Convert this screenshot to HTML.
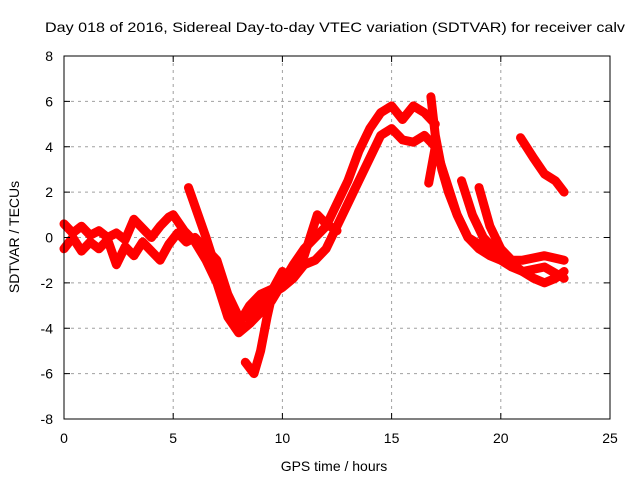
<!DOCTYPE html>
<html><head><meta charset="utf-8"><style>
body{margin:0;background:#fff}
svg text{font-family:"Liberation Sans",sans-serif;font-size:14px;fill:#000}
</style></head><body>
<svg id="chart" width="640" height="480" viewBox="0 0 640 480">
<rect width="640" height="480" fill="#fff"/>
<text x="45" y="32" textLength="580" lengthAdjust="spacingAndGlyphs">Day 018 of 2016, Sidereal Day-to-day VTEC variation (SDTVAR) for receiver calv</text>
<g id="grid"></g>
<g id="series"></g>
<rect x="64" y="56" width="546" height="363" fill="none" stroke="#000" stroke-width="1"/>
<g id="ticks"></g>
<text x="334" y="471" text-anchor="middle">GPS time / hours</text>
<text transform="translate(19,237) rotate(-90)" text-anchor="middle">SDTVAR / TECUs</text>
</svg>
<script>
const xTicks=[0,5,10,15,20,25];
const yTicks=[-8,-6,-4,-2,0,2,4,6,8];
const t1=[0,0.4,0.8,1.2,1.6,2,2.4,2.8,3.2,3.6,4,4.4,4.8,5,5.5,6,6.5,7,7.5,8,8.5,9,9.5,10,10.5,11,11.5,12,12.5,13,13.5,14,14.5,15,15.5,16,16.5,17];
const v1=[0.6,0.2,0.5,0.1,0.3,0,0.2,-0.1,0.8,0.4,0,0.5,0.9,1.0,0.3,-0.2,-1,-2,-3.5,-4.2,-3.8,-3.3,-2.8,-2,-1.2,-0.5,0,0.5,1.5,2.5,3.8,4.8,5.5,5.8,5.2,5.8,5.5,5.0];
const t2=[0,0.4,0.8,1.2,1.6,2,2.4,2.8,3.2,3.6,4,4.4,4.8,5.2,5.6,6,7,7.5,8,8.5,9,9.5,10,10.5,11,11.5,12,12.5,13,13.5,14,14.5,15,15.5,16,16.5,17];
const v2=[-0.5,0,-0.6,-0.2,-0.5,-0.1,-1.2,-0.4,-0.8,-0.2,-0.6,-1.0,-0.3,0.2,-0.2,0,-1.0,-2.5,-3.5,-3.5,-3,-2.5,-2.2,-1.8,-1.2,-1.0,-0.5,0.5,1.5,2.5,3.5,4.5,4.8,4.3,4.2,4.5,4.0];
const t3=[5.7,6.5,7,7.5,8,8.5,9,9.7,10.5,11,11.6,12,12.5];
const v3=[2.2,0,-1.5,-3.3,-3.8,-3.0,-2.5,-2.2,-1.5,-0.8,1.0,0.6,0.3];
const t4=[8.3,8.7,9,9.3,9.6,10];
const v4=[-5.5,-6,-5,-3.5,-2.2,-1.5];
const t5=[16.8,17,17.3,17.6,18,18.5,19,19.5,20,20.5,21,21.5,22,22.5,22.9];
const v5=[6.2,4.5,3,2,1,0,-0.5,-0.8,-1,-1.3,-1.5,-1.8,-2,-1.8,-1.5];
const t6=[16.7,17,17.5,18,18.5,19,19.5,20,20.5,21,22,22.9];
const v6=[2.4,4,2.5,1.0,0,-0.3,-0.5,-0.5,-1,-1,-0.8,-1];
const t7=[18.2,18.7,19.2,19.7,20.3,21,22,22.9];
const v7=[2.5,1,0,-0.5,-1,-1.5,-1.3,-1.8];
const t8=[19,19.5,20];
const v8=[2.2,0.5,-0.5];
const t9=[20.9,21.5,22,22.5,22.9];
const v9=[4.4,3.5,2.8,2.5,2.0];
const tracks=[[t1,v1],[t2,v2],[t3,v3],[t4,v4],[t5,v5],[t6,v6],[t7,v7],[t8,v8],[t9,v9]];
const X=t=>64+t*546/25, Y=v=>237.5-v*363/16;
const NS="http://www.w3.org/2000/svg";
const grid=document.getElementById('grid'),ticks=document.getElementById('ticks'),ser=document.getElementById('series');
function mk(tag,attrs,parent){const e=document.createElementNS(NS,tag);for(const k in attrs)e.setAttribute(k,attrs[k]);parent.appendChild(e);return e;}
xTicks.forEach(t=>{const x=X(t);
 if(t>0&&t<25){const g=mk('line',{x1:x,x2:x,y1:56,y2:419,stroke:'#a0a0a0','stroke-dasharray':'3,4'},grid);
 
 }
 mk('line',{x1:x,x2:x,y1:419,y2:413,stroke:'#000'},ticks);mk('line',{x1:x,x2:x,y1:56,y2:62,stroke:'#000'},ticks);
 const l=mk('text',{x:x,y:443,'text-anchor':'middle'},ticks);l.textContent=t;
 
 });
yTicks.forEach(v=>{const y=Y(v);
 if(v>-8&&v<8){const g=mk('line',{x1:64,x2:610,y1:y,y2:y,stroke:'#a0a0a0','stroke-dasharray':'3,4'},grid);
 
 }
 mk('line',{x1:64,x2:70,y1:y,y2:y,stroke:'#000'},ticks);mk('line',{x1:610,x2:604,y1:y,y2:y,stroke:'#000'},ticks);
 const l=mk('text',{x:53,y:y+5,'text-anchor':'end'},ticks);l.textContent=v;
 
 });
tracks.forEach(([ts,vs])=>{
 const pts=ts.map((t,i)=>X(t).toFixed(1)+','+Y(vs[i]).toFixed(1)).join(' ');
 const p=mk('polyline',{points:pts,fill:'none',stroke:'#ff0000','stroke-width':9,'stroke-linejoin':'round','stroke-linecap':'round'},ser);
 
 
});
</script>
</body></html>
